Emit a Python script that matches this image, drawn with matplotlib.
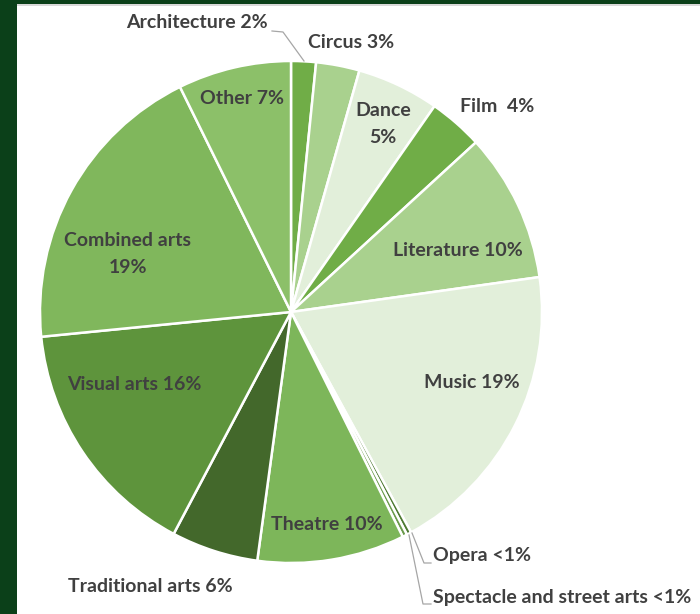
import matplotlib
matplotlib.use("Agg")
import matplotlib.pyplot as plt
from matplotlib.patches import Rectangle

categories = ["Architecture", "Circus", "Dance", "Film", "Literature", "Music",
              "Opera", "Spectacle and street arts", "Theatre", "Traditional arts",
              "Visual arts", "Combined arts", "Other"]
values = [1.6, 2.8, 5.3, 3.5, 9.6, 19.3, 0.3, 0.3, 9.5, 5.6, 15.7, 19.3, 7.3]
labels = ["Architecture 2%", "Circus 3%", "Dance\n5%", "Film  4%", "Literature 10%",
          "Music 19%", "Opera <1%", "Spectacle and street arts <1%", "Theatre 10%",
          "Traditional arts 6%", "Visual arts 16%", "Combined arts\n19%", "Other 7%"]
colors = ["#70AD47", "#A9D18E", "#E2EFDA", "#70AD47", "#A9D18E", "#E2EFDA",
          "#4E7A32", "#6A9A4A", "#7DB65A", "#43682B", "#5E943C", "#80B75C", "#8CC069"]

W, H = 700, 614
fig = plt.figure(figsize=(W / 100, H / 100), dpi=100)
fig.patch.set_facecolor("white")

# frame
fig.add_artist(Rectangle((0, 0), 17 / W, 1, transform=fig.transFigure,
                         facecolor="#0B4019", edgecolor="none", zorder=0))
fig.add_artist(Rectangle((0, 1 - 4 / H), 1, 4 / H, transform=fig.transFigure,
                         facecolor="#0B4019", edgecolor="none", zorder=0))
fig.add_artist(Rectangle((17 / W, 1 - 6 / H), 1, 2 / H, transform=fig.transFigure,
                         facecolor="#D9D9D9", edgecolor="none", zorder=0))

cx, cy, r = 291, 312, 251
ax = fig.add_axes([(cx - r) / W, (H - cy - r) / H, 2 * r / W, 2 * r / H])
ax.pie(values, colors=colors, startangle=90, counterclock=False, radius=1,
       wedgeprops=dict(edgecolor="white", linewidth=1.8))
ax.set_xlim(-1, 1)
ax.set_ylim(-1, 1)
ax.set_aspect("auto")
ax.axis("off")

# label positions in pixels (layout only)
label_pos = [(197, 22, "center"), (351, 42, "center"), (383, 124, "center"),
             (497, 106, "center"), (458, 250, "center"), (472, 382, "center"),
             (433, 556, "left"), (433, 597, "left"), (327, 525, "center"),
             (150, 587, "center"), (134, 384, "center"), (128, 254, "center"),
             (242, 99, "center")]

def fxy(px, py):
    return px / W, 1 - py / H

for lab, (px, py, ha) in zip(labels, label_pos):
    x, y = fxy(px, py)
    fig.text(x, y, lab, ha=ha, va="center", fontsize=14, fontweight="bold",
             family=["Lato", "DejaVu Sans"], color="#404040",
             linespacing=1.65)

# leader lines (pixels)
leaders = [[(272, 31), (283, 32), (304, 61)],
           [(412, 533), (424, 563), (431, 563)],
           [(409, 535), (423, 604), (431, 604)]]
for pts in leaders:
    xs = [p[0] / W for p in pts]
    ys = [1 - p[1] / H for p in pts]
    fig.add_artist(plt.Line2D(xs, ys, transform=fig.transFigure,
                              color="#A6A6A6", linewidth=0.9))

fig.savefig("out.png", dpi=100, facecolor="white")
